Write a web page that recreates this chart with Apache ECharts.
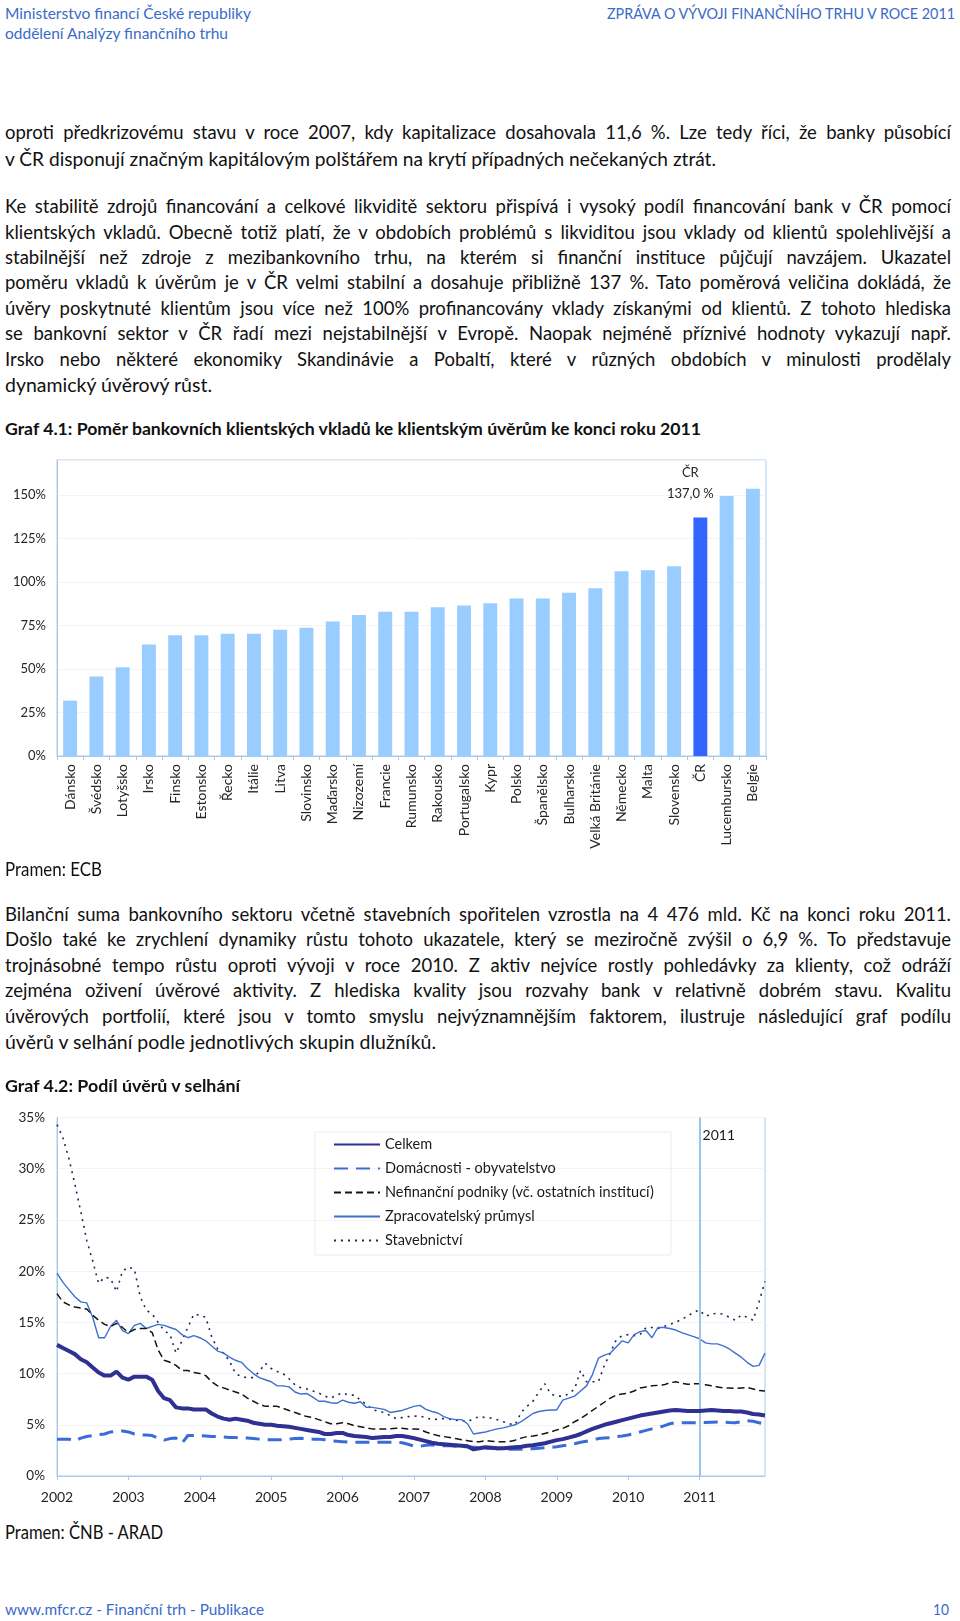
<!DOCTYPE html>
<html><head><meta charset="utf-8">
<script src="https://cdn.jsdelivr.net/npm/echarts/dist/echarts.min.js"></script>
<style>
html,body{margin:0;padding:0;background:#fff;}
body{width:960px;height:1621px;position:relative;overflow:hidden;font-family:Lato,'Noto Sans',sans-serif;color:#111;}
.ln{position:absolute;left:5px;white-space:nowrap;font-size:18.5px;line-height:20px;transform-origin:0 50%;}
</style></head><body>
<div id="c1" style="position:absolute;left:0;top:440px;width:960px;height:420px"></div>
<div id="c2" style="position:absolute;left:0;top:1095px;width:960px;height:425px"></div>
<script>
// ---------- Chart 1 data ----------
const countries = ['Dánsko','Švédsko','Lotyšsko','Irsko','Finsko','Estonsko','Řecko','Itálie','Litva','Slovinsko','Maďarsko','Nizozemí','Francie','Rumunsko','Rakousko','Portugalsko','Kypr','Polsko','Španělsko','Bulharsko','Velká Británie','Německo','Malta','Slovensko','ČR','Lucembursko','Belgie'];
const ratios = [31.8,45.7,51.0,64.1,69.4,69.3,70.2,70.2,72.5,73.7,77.3,81.0,82.9,82.9,85.4,86.5,87.7,90.4,90.4,93.8,96.3,106.1,106.7,109.0,137.0,149.3,153.5];
const highlightCountry = 'ČR';

// ---------- Chart 2 data ----------
const years = ['2002','2003','2004','2005','2006','2007','2008','2009','2010','2011'];
const markYear = '2011';
const seriesNames = ['Celkem','Domácnosti - obyvatelstvo','Nefinanční podniky (vč. ostatních institucí)','Zpracovatelský průmysl','Stavebnictví'];
const celkem = [12.8,12.5,12.2,11.9,11.4,11.1,10.6,10.1,9.8,9.8,10.2,9.6,
9.4,9.7,9.7,9.7,9.4,8.3,7.6,7.4,6.7,6.6,6.6,6.5,
6.5,6.5,6.1,5.8,5.6,5.5,5.6,5.5,5.4,5.2,5.1,5.0,
5.0,4.9,4.85,4.8,4.7,4.6,4.5,4.4,4.3,4.1,4.1,4.2,
4.2,4.0,3.9,3.85,3.8,3.7,3.75,3.8,3.8,3.9,3.9,3.8,
3.7,3.55,3.4,3.25,3.15,3.1,3.05,3.0,2.95,2.9,2.6,2.7,
2.8,2.75,2.7,2.7,2.75,2.8,2.85,2.95,3.0,3.1,3.2,3.35,
3.5,3.6,3.75,3.9,4.1,4.35,4.6,4.8,5.0,5.15,5.3,5.45,
5.6,5.75,5.9,6.0,6.1,6.2,6.3,6.4,6.45,6.4,6.35,6.35,
6.35,6.4,6.45,6.4,6.35,6.35,6.3,6.3,6.2,6.05,6.0,5.9];
const domacnosti = [3.6,3.6,3.6,3.4,3.7,3.85,3.95,4.05,4.1,4.3,4.35,4.4,
4.3,4.1,4.0,4.0,3.95,3.7,3.5,3.65,3.7,3.2,3.95,3.95,
3.95,3.9,3.85,3.85,3.8,3.75,3.75,3.7,3.7,3.65,3.6,3.55,
3.55,3.55,3.55,3.6,3.65,3.68,3.65,3.6,3.6,3.55,3.45,3.4,
3.35,3.3,3.3,3.3,3.3,3.3,3.3,3.3,3.3,3.3,3.25,3.1,
2.9,2.9,3.0,3.05,3.0,2.95,2.95,2.9,2.85,2.85,2.8,2.75,
2.7,2.7,2.65,2.65,2.6,2.6,2.6,2.65,2.65,2.7,2.75,2.8,
2.85,2.95,3.05,3.15,3.3,3.4,3.5,3.65,3.7,3.75,3.85,3.9,
4.0,4.15,4.3,4.45,4.6,4.7,4.9,5.1,5.2,5.2,5.2,5.2,
5.2,5.22,5.25,5.27,5.25,5.22,5.2,5.3,5.4,5.35,5.2,5.05];
const nefinancni = [17.8,17.0,16.7,16.5,16.4,16.3,15.7,15.2,14.8,14.6,14.9,14.5,
14.0,14.3,14.4,14.4,14.0,12.3,11.3,11.1,10.8,10.3,10.3,10.1,
10.0,9.8,9.2,8.8,8.6,8.4,8.2,8.0,7.6,7.3,7.0,6.8,
6.8,6.8,6.6,6.4,6.2,6.0,5.8,5.7,5.5,5.3,5.1,5.1,
5.2,5.1,4.9,4.8,4.7,4.6,4.6,4.6,4.6,4.65,4.65,4.6,
4.6,4.55,4.3,4.1,3.95,3.85,3.75,3.65,3.55,3.45,3.35,3.35,
3.45,3.4,3.35,3.35,3.35,3.5,3.7,3.85,3.9,4.0,4.15,4.3,
4.5,4.65,4.9,5.3,5.6,6.0,6.4,6.8,7.2,7.6,7.9,8.0,
8.1,8.3,8.6,8.7,8.8,8.85,8.9,9.1,9.2,9.05,8.95,9.0,
9.0,8.9,8.8,8.7,8.6,8.6,8.55,8.6,8.65,8.5,8.35,8.3];
const zpracovatelsky = [19.8,18.9,18.2,17.5,17.0,16.9,15.5,13.5,13.5,14.6,15.2,14.2,
13.9,14.7,14.9,14.4,14.6,14.8,14.7,14.5,14.3,13.8,13.5,13.7,
13.5,13.2,12.7,12.2,12.0,11.6,11.3,11.1,10.5,10.0,9.6,9.4,
9.2,8.8,8.8,8.7,8.2,8.0,8.05,7.7,7.3,7.3,7.15,7.1,
7.4,7.2,7.1,7.25,6.7,6.7,6.6,6.5,6.2,6.3,6.4,6.6,
6.8,6.9,6.5,6.3,6.15,5.8,5.6,5.5,5.5,5.1,4.1,4.2,
4.3,4.45,4.6,4.7,4.85,5.0,5.3,5.7,6.1,6.3,6.4,6.45,
6.45,7.4,7.6,7.8,8.3,8.8,9.9,11.5,11.8,12.0,12.6,13.2,
13.0,13.8,14.1,14.2,13.5,14.5,14.5,14.4,14.25,14.0,13.8,13.6,
13.4,13.0,12.9,12.9,12.7,12.4,12.0,11.6,11.1,10.7,10.8,12.0];
const stavebnictvi = [34.3,33.0,31.0,28.5,25.8,23.0,21.0,18.8,19.4,19.3,18.0,20.0,
20.4,20.2,17.5,16.2,15.8,15.0,14.2,13.8,12.0,13.2,14.5,15.8,
15.7,15.5,13.6,12.4,12.0,11.2,10.0,9.7,9.6,9.6,10.2,11.0,
10.5,10.2,10.0,9.5,8.9,8.6,8.5,8.3,8.1,7.8,7.6,7.9,
8.1,7.9,7.9,7.4,7.0,6.5,6.3,6.2,5.9,5.6,5.7,5.8,
5.85,5.85,5.7,5.5,5.55,5.6,5.55,5.45,5.4,5.3,5.6,5.8,
5.7,5.65,5.5,5.3,5.1,5.0,6.2,6.8,7.3,8.2,9.0,8.0,
7.8,7.8,8.0,8.5,10.3,9.2,9.2,9.2,10.8,12.0,13.3,13.7,
13.8,13.7,13.8,14.5,14.5,14.4,14.6,14.8,15.0,15.3,15.6,16.0,
16.2,15.6,15.8,15.9,15.8,15.5,15.2,15.7,15.5,15.2,17.0,19.0];

// ---------- Page text ----------
const BLUE = '#3A6BC8';
const textLines = [
 {t:'Ministerstvo financí České republiky', y:12.5, w:246, size:15, color:BLUE},
 {t:'oddělení Analýzy finančního trhu', y:33, w:223, size:15, color:BLUE},
 {t:'ZPRÁVA O VÝVOJI FINANČNÍHO TRHU V ROCE 2011', y:12.5, w:348, size:15, color:BLUE, right:955},
 {t:'oproti předkrizovému stavu v roce 2007, kdy kapitalizace dosahovala 11,6 %. Lze tedy říci, že banky působící', y:132, w:946, j:1},
 {t:'v ČR disponují značným kapitálovým polštářem na krytí případných nečekaných ztrát.', y:159, w:711},
 {t:'Ke stabilitě zdrojů financování a celkové likviditě sektoru přispívá i vysoký podíl financování bank v ČR pomocí', y:206, w:946, j:1},
 {t:'klientských vkladů. Obecně totiž platí, že v obdobích problémů s likviditou jsou vklady od klientů spolehlivější a', y:231.5, w:946, j:1},
 {t:'stabilnější než zdroje z mezibankovního trhu, na kterém si finanční instituce půjčují navzájem. Ukazatel', y:257, w:946, j:1},
 {t:'poměru vkladů k úvěrům je v ČR velmi stabilní a dosahuje přibližně 137 %. Tato poměrová veličina dokládá, že', y:282, w:946, j:1},
 {t:'úvěry poskytnuté klientům jsou více než 100% profinancovány vklady získanými od klientů. Z tohoto hlediska', y:307.5, w:946, j:1},
 {t:'se bankovní sektor v ČR řadí mezi nejstabilnější v Evropě. Naopak nejméně příznivé hodnoty vykazují např.', y:333, w:946, j:1},
 {t:'Irsko nebo některé ekonomiky Skandinávie a Pobaltí, které v různých obdobích v minulosti prodělaly', y:358.5, w:946, j:1},
 {t:'dynamický úvěrový růst.', y:384.5, w:207},
 {t:'Graf 4.1: Poměr bankovních klientských vkladů ke klientským úvěrům ke konci roku 2011', y:429, w:696, bold:1, size:17},
 {t:'Pramen: ECB', y:869, w:97},
 {t:'Bilanční suma bankovního sektoru včetně stavebních spořitelen vzrostla na 4 476 mld. Kč na konci roku 2011.', y:913.5, w:946, j:1},
 {t:'Došlo také ke zrychlení dynamiky růstu tohoto ukazatele, který se meziročně zvýšil o 6,9 %. To představuje', y:939, w:946, j:1},
 {t:'trojnásobné tempo růstu oproti vývoji v roce 2010. Z aktiv nejvíce rostly pohledávky za klienty, což odráží', y:965, w:946, j:1},
 {t:'zejména oživení úvěrové aktivity. Z hlediska kvality jsou rozvahy bank v relativně dobrém stavu. Kvalitu', y:990, w:946, j:1},
 {t:'úvěrových portfolií, které jsou v tomto smyslu nejvýznamnějším faktorem, ilustruje následující graf podílu', y:1016, w:946, j:1},
 {t:'úvěrů v selhání podle jednotlivých skupin dlužníků.', y:1041.5, w:431},
 {t:'Graf 4.2: Podíl úvěrů v selhání', y:1086, w:235, bold:1, size:17},
 {t:'Pramen: ČNB - ARAD', y:1531.5, w:158},
 {t:'www.mfcr.cz - Finanční trh - Publikace', y:1609, w:259, size:15, color:BLUE},
 {t:'10', y:1609, w:16, size:15, color:BLUE, right:949}
];
textLines.forEach(L => {
  const d = document.createElement('div');
  d.className = 'ln';
  d.textContent = L.t;
  d.style.top = (L.y - 10) + 'px';
  if (L.size) d.style.fontSize = L.size + 'px';
  if (L.bold) d.style.fontWeight = '700';
  if (L.color) d.style.color = L.color;
  document.body.appendChild(d);
  const nat = d.getBoundingClientRect().width;
  if (L.right) d.style.left = (L.right - L.w) + 'px';
  if (L.j && nat < L.w) {
    d.style.width = L.w + 'px';
    d.style.textAlign = 'justify';
    d.style.textAlignLast = 'justify';
  } else {
    d.style.transform = 'scaleX(' + (L.w / nat) + ')';
  }
});

// ---------- Chart 1 ----------
const FRAME = '#A9CBEB';
const AXTXT = '#262626';
const c1 = echarts.init(document.getElementById('c1'));
c1.setOption({
  animation: false,
  grid: {left: 57, top: 20, width: 709, height: 296, show: true, borderColor: FRAME, borderWidth: 1},
  xAxis: {
    type: 'category', data: countries,
    axisLine: {lineStyle: {color: FRAME}},
    axisTick: {show: true, length: 4, lineStyle: {color: FRAME}},
    axisLabel: {rotate: 90, fontSize: 14, color: AXTXT, fontFamily: 'Lato', margin: 8}
  },
  yAxis: {
    type: 'value', min: 0, max: 170, interval: 25,
    axisLine: {show: true, lineStyle: {color: FRAME}},
    axisTick: {show: false},
    splitLine: {lineStyle: {color: '#F3F3F3'}},
    axisLabel: {fontSize: 13, color: AXTXT, fontFamily: 'Lato', margin: 11,
      formatter: v => (v % 25 === 0 ? v + '%' : '')}
  },
  series: [{
    type: 'bar', barWidth: '53%',
    data: ratios.map((v, i) => countries[i] === highlightCountry ? {
      value: v, itemStyle: {color: '#3366FF'},
      label: {show: true, position: 'top', distance: 13, offset: [-10, 0],
        formatter: p => p.name + '\n' + p.value.toFixed(1).replace('.', ',') + ' %',
        fontSize: 13, lineHeight: 21, color: AXTXT, fontFamily: 'Lato'}
    } : {value: v}),
    itemStyle: {color: '#99CCFF'}
  }]
});

// ---------- Chart 2 ----------
const months = [];
years.forEach(y => { for (let m = 1; m <= 12; m++) months.push(y + '-' + (m < 10 ? '0' : '') + m); });
const isYearStart = i => i % 12 === 0;
const c2 = echarts.init(document.getElementById('c2'));
const lineBase = {type: 'line', symbol: 'none', showSymbol: false, smooth: false};
c2.setOption({
  animation: false,
  grid: {left: 57, top: 22.5, width: 708, height: 358.5, show: true, borderColor: FRAME, borderWidth: 1},
  legend: {
    orient: 'vertical', left: 315, top: 37, padding: [5, 17, 7, 18],
    itemWidth: 46, itemHeight: 14, itemGap: 9,
    borderColor: '#ECECEC', borderWidth: 1,
    itemStyle: {opacity: 0},
    textStyle: {fontSize: 14.5, color: '#1a1a1a', fontFamily: 'Lato'},
    data: seriesNames
  },
  xAxis: {
    type: 'category', data: months, boundaryGap: false,
    axisLine: {lineStyle: {color: FRAME}},
    axisTick: {show: true, interval: isYearStart, length: 4, lineStyle: {color: FRAME}},
    axisLabel: {interval: isYearStart, formatter: v => v.slice(0, 4), fontSize: 14, color: AXTXT, fontFamily: 'Lato', margin: 14}
  },
  yAxis: {
    type: 'value', min: 0, max: 35, interval: 5,
    axisLine: {show: true, lineStyle: {color: FRAME}},
    axisTick: {show: false},
    splitLine: {lineStyle: {color: '#F3F3F3'}},
    axisLabel: {formatter: v => v + '%', fontSize: 13.5, color: AXTXT, fontFamily: 'Lato', margin: 12}
  },
  series: [
    Object.assign({}, lineBase, {name: seriesNames[4], data: stavebnictvi, z: 2,
      lineStyle: {color: '#1F2757', width: 1.6, type: [2, 5]}, itemStyle: {color: '#1F2757'}}),
    Object.assign({}, lineBase, {name: seriesNames[3], data: zpracovatelsky, z: 3,
      lineStyle: {color: '#3F6FCF', width: 1.4, type: 'solid'}, itemStyle: {color: '#3F6FCF'}}),
    Object.assign({}, lineBase, {name: seriesNames[2], data: nefinancni, z: 4,
      lineStyle: {color: '#141414', width: 1.5, type: [7, 4]}, itemStyle: {color: '#141414'}}),
    Object.assign({}, lineBase, {name: seriesNames[1], data: domacnosti, z: 5,
      lineStyle: {color: '#3A6CD8', width: 3, type: [14, 8]}, itemStyle: {color: '#3A6CD8'}}),
    Object.assign({}, lineBase, {name: seriesNames[0], data: celkem, z: 6,
      lineStyle: {color: '#2E3092', width: 4}, itemStyle: {color: '#2E3092'},
      markLine: {silent: true, symbol: 'none', label: {show: false},
        lineStyle: {color: '#9DC3E6', width: 2, type: 'solid'},
        data: [{xAxis: markYear + '-01'}]}})
  ]
});
const p = c2.convertToPixel({xAxisIndex: 0, yAxisIndex: 0}, [markYear + '-01', 35]);
c2.setOption({graphic: [{type: 'text', left: p[0] + 3, top: p[1] + 11,
  style: {text: markYear, font: '14px Lato', fill: '#1a1a1a'}}]});
</script>
</body></html>
